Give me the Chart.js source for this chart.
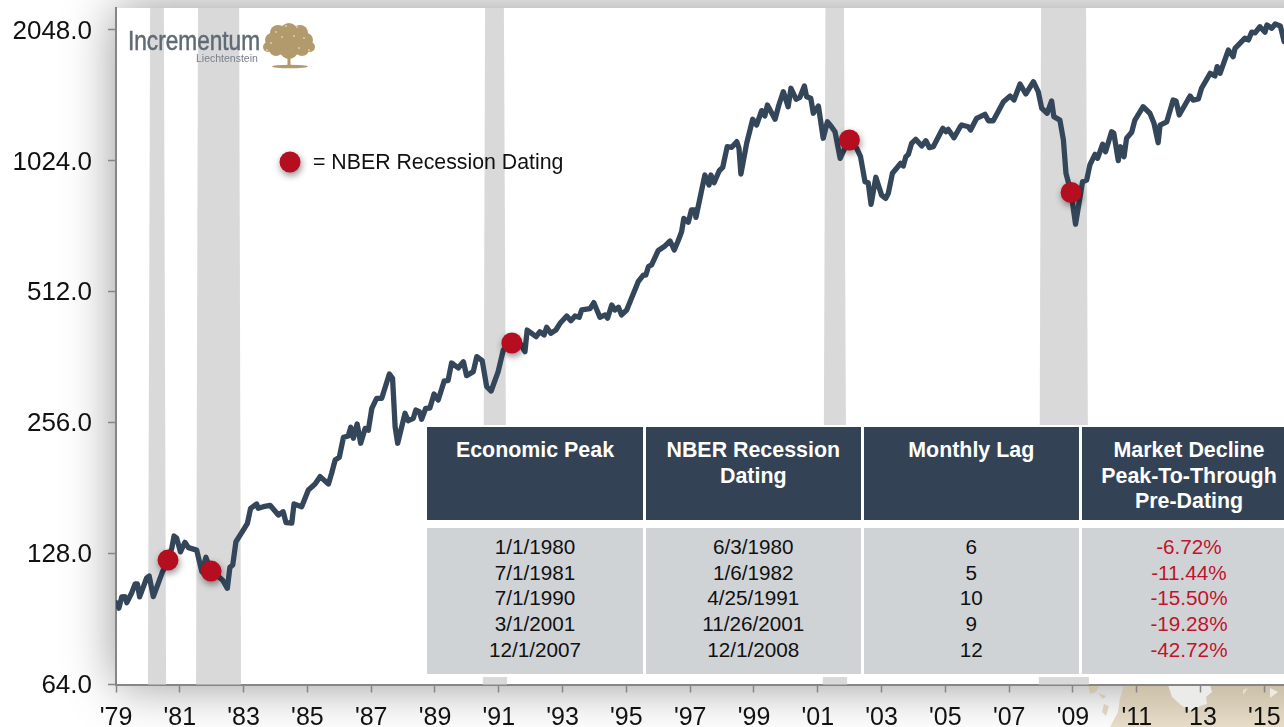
<!DOCTYPE html>
<html>
<head>
<meta charset="utf-8">
<title>NBER Recession Dating</title>
<script src="https://cdn.jsdelivr.net/npm/chart.js@4"></script>
<style>
html,body{margin:0;padding:0;background:#fff;width:1284px;height:727px;overflow:hidden;font-family:"Liberation Sans",Arial,sans-serif}
#wrap{position:relative;width:1284px;height:727px;overflow:hidden}
canvas{position:absolute;left:0;top:0}
#table{position:absolute;left:426px;top:425px;width:870px;height:252px;background:#fff}
.c{position:absolute;text-align:center;box-sizing:border-box}
.h{top:2px;height:93px;background:#334355;color:#fff;font-weight:bold;font-size:21.4px;line-height:25.5px;padding-top:11px}
.b{top:103px;height:146px;background:#d0d3d6;color:#111;font-size:20.7px;line-height:25.7px;padding-top:6px}
.r{color:#c0142c}
</style>
</head>
<body>
<div id="wrap">
<canvas id="chart" width="1284" height="727"></canvas>
<div id="table"></div>
</div>
<script>
const years = [1979.01,1979.09,1979.18,1979.28,1979.34,1979.49,1979.60,1979.67,1979.74,1979.96,1980.04,1980.17,1980.46,1980.63,1980.75,1980.82,1980.90,1981.02,1981.16,1981.27,1981.53,1981.69,1981.82,1981.98,1982.21,1982.34,1982.49,1982.57,1982.66,1982.76,1982.94,1983.12,1983.22,1983.41,1983.46,1983.62,1983.83,1984.09,1984.24,1984.33,1984.51,1984.58,1984.82,1985.03,1985.24,1985.40,1985.66,1985.76,1985.87,1986.00,1986.13,1986.28,1986.36,1986.44,1986.56,1986.67,1986.81,1986.91,1987.02,1987.17,1987.33,1987.57,1987.67,1987.75,1987.83,1988.06,1988.16,1988.32,1988.40,1988.51,1988.58,1988.71,1988.84,1988.97,1989.10,1989.29,1989.41,1989.52,1989.73,1989.89,1989.99,1990.20,1990.31,1990.48,1990.62,1990.76,1990.98,1991.14,1991.41,1991.66,1991.82,1991.89,1992.17,1992.29,1992.42,1992.50,1992.63,1992.79,1992.92,1993.13,1993.26,1993.39,1993.52,1993.60,1993.86,1993.98,1994.17,1994.33,1994.41,1994.54,1994.64,1994.75,1994.85,1995.01,1995.37,1995.53,1995.61,1995.69,1995.79,1996.00,1996.21,1996.37,1996.50,1996.62,1996.73,1996.80,1996.94,1997.04,1997.15,1997.18,1997.46,1997.59,1997.65,1997.75,1997.91,1998.02,1998.16,1998.30,1998.46,1998.53,1998.59,1998.77,1998.96,1999.08,1999.24,1999.34,1999.42,1999.66,1999.78,1999.92,2000.07,2000.16,2000.32,2000.44,2000.58,2000.65,2000.78,2000.86,2001.02,2001.17,2001.30,2001.43,2001.54,2001.70,2001.82,2001.99,2002.22,2002.34,2002.48,2002.58,2002.67,2002.82,2003.00,2003.13,2003.21,2003.34,2003.60,2003.68,2003.76,2003.84,2003.94,2004.07,2004.26,2004.39,2004.50,2004.62,2004.92,2005.02,2005.09,2005.27,2005.46,2005.51,2005.72,2005.79,2005.98,2006.24,2006.35,2006.50,2006.82,2007.03,2007.15,2007.34,2007.52,2007.76,2007.91,2008.02,2008.19,2008.33,2008.40,2008.59,2008.70,2008.78,2008.94,2009.08,2009.30,2009.43,2009.53,2009.69,2009.77,2009.93,2010.02,2010.21,2010.28,2010.42,2010.49,2010.60,2010.68,2010.84,2010.94,2011.20,2011.41,2011.54,2011.67,2011.73,2011.94,2012.14,2012.23,2012.33,2012.67,2012.77,2012.93,2013.03,2013.30,2013.45,2013.52,2013.61,2013.87,2014.02,2014.08,2014.39,2014.50,2014.60,2014.71,2014.86,2015.02,2015.08,2015.23,2015.34,2015.50,2015.62];
const index = [98.6,95.9,101.8,101.9,98.7,103.9,109.0,109.0,101.8,112.5,113.7,101.9,116.3,123.7,131.9,140.5,139.0,129.2,135.9,132.1,130.4,116.3,125.5,116.7,113.3,111.3,106.5,119.0,120.5,136.3,143.0,150.3,162.7,166.5,162.7,164.1,165.3,157.0,159.8,150.8,150.4,166.5,164.1,179.3,185.1,192.4,185.1,195.9,210.1,213.2,236.9,238.6,249.8,235.8,254.2,229.6,248.4,246.1,276.3,291.3,291.3,331.3,323.8,250.6,229.6,269.1,258.7,262.1,273.8,271.3,260.7,276.3,276.7,298.0,288.6,319.4,320.0,351.2,342.0,353.6,328.4,335.5,363.1,355.6,309.8,302.8,335.5,376.1,390.5,390.5,372.7,418.2,403.7,414.4,407.3,424.4,411.0,418.2,433.3,450.4,439.3,450.4,447.3,465.0,468.2,483.4,447.3,452.9,445.1,477.4,465.0,471.8,452.9,465.0,540.1,559.5,559.5,584.9,590.2,637.4,652.6,670.0,638.8,670.0,703.7,755.3,739.8,789.6,789.6,759.5,950.2,901.5,950.2,912.1,972.0,989.8,1103.7,1100.5,1133.8,1094.4,955.4,1123.5,1276.6,1238.2,1336.4,1298.9,1376.6,1276.6,1376.6,1477.5,1364.2,1504.4,1419.3,1434.1,1522.2,1438.1,1426.2,1318.0,1369.0,1154.5,1259.6,1226.9,1195.3,1038.2,1084.6,1144.0,1094.4,1046.9,917.2,912.1,813.5,939.0,854.5,839.8,862.3,959.0,1011.3,996.7,1046.9,1060.1,1123.5,1148.0,1108.2,1139.3,1098.2,1103.7,1216.7,1195.3,1210.0,1157.6,1225.2,1238.2,1226.9,1205.8,1282.8,1310.6,1266.6,1266.6,1400.7,1444.1,1413.4,1538.2,1459.2,1557.5,1477.5,1352.9,1318.0,1406.6,1294.4,1271.0,1144.1,959.0,866.0,732.2,917.2,925.4,1002.2,1060.1,1038.2,1118.2,1074.9,1195.3,1185.4,1025.4,1103.7,1046.9,1154.5,1191.9,1271.0,1364.2,1318.0,1249.2,1127.4,1238.2,1259.6,1413.4,1406.6,1306.0,1444.1,1413.4,1421.2,1504.4,1628.2,1605.8,1686.8,1628.2,1841.9,1778.0,1858.6,1961.2,1943.5,2024.8,2017.2,2083.9,2024.8,2102.7,2066.4,2114.3,2092.4,1925.7];

const dotYears = [1980.63,1981.98,1991.41,2001.99,2008.94];
const dotValues = [123.7,116.7,390.5,1144,866];

const yTicks = [64,128,256,512,1024,2048];
const xTicks = [1979,1981,1983,1985,1987,1989,1991,1993,1995,1997,1999,2001,2003,2005,2007,2009,2011,2013,2015];

const bandStartTop = [1980.07,1981.57,1990.57,2001.24,2008.00];
const bandEndTop = [1980.50,1982.86,1991.16,2001.82,2009.41];
const bandStartBottom = [1980.00,1981.51,1990.50,2001.16,2007.93];
const bandEndBottom = [1980.57,1982.92,1991.26,2001.92,2009.50];

const tableHeaders = ["Economic Peak","NBER Recession<br>Dating","Monthly Lag","Market Decline<br>Peak-To-Through<br>Pre-Dating"];
const peaks = ["1/1/1980","7/1/1981","7/1/1990","3/1/2001","12/1/2007"];
const datings = ["6/3/1980","1/6/1982","4/25/1991","11/26/2001","12/1/2008"];
const lags = ["6","5","10","9","12"];
const declines = ["-6.72%","-11.44%","-15.50%","-19.28%","-42.72%"];
const legendLabel = "= NBER Recession Dating";
const logoName = "Incrementum";
const logoPlace = "Liechtenstein";

const AXIS = "#868686", LINE = "#34465a", RED = "#b40e20", BAND = "#d9d9d9";

const table = document.getElementById("table");
const cols = [[1,216],[219.5,215.5],[437.5,215.5],[656,214]];
[peaks,datings,lags,declines].forEach((rows,i)=>{
  const h = document.createElement("div");
  h.className = "c h"; h.style.left = cols[i][0]+"px"; h.style.width = cols[i][1]+"px";
  h.innerHTML = tableHeaders[i]; table.appendChild(h);
  const b = document.createElement("div");
  b.className = "c b" + (i===3?" r":""); b.style.left = cols[i][0]+"px"; b.style.width = cols[i][1]+"px";
  b.innerHTML = rows.join("<br>"); table.appendChild(b);
});

const backdrop = {
  id:"backdrop",
  beforeDraw(chart){
    const {ctx,chartArea:a} = chart;
    ctx.save();
    ctx.fillStyle="#fff"; ctx.fillRect(0,0,1284,727);
    ctx.shadowColor="rgba(0,0,0,0.42)"; ctx.shadowBlur=48;
    ctx.fillStyle="#fff"; ctx.fillRect(a.left,a.top,a.right-a.left+80,a.bottom-a.top);
    ctx.shadowColor="transparent"; ctx.shadowBlur=0;
    // world map fragment under the axis
    ctx.beginPath(); ctx.rect(0,a.bottom,1284,727-a.bottom); ctx.clip();
    const g=ctx.createLinearGradient(0,a.bottom,0,727);
    g.addColorStop(0,"#cabfa8"); g.addColorStop(1,"#e6dcc8");
    const poly=(pts,f)=>{ctx.fillStyle=f;ctx.beginPath();pts.forEach((p,i)=>i?ctx.lineTo(p[0],p[1]):ctx.moveTo(p[0],p[1]));ctx.closePath();ctx.fill();};
    poly([[1124,685],[1284,685],[1284,727],[1110,727],[1118,712],[1120,698]],g);
    poly([[1168,685],[1210,685],[1212,692],[1206,697],[1207,704],[1200,706],[1193,712],[1182,706],[1172,697]],"#ebebe9");
    poly([[1088,685],[1100,685],[1096,692],[1090,694]],g);
    poly([[1098,693],[1106,696],[1103,699]],g);
    poly([[1104,704],[1109,706],[1106,716],[1102,712]],g);
    poly([[1270,688],[1278,692],[1270,698]],"#eeeae2");
    poly([[1243,690],[1248,688],[1243,695]],"#e6e0d4");
    ctx.restore();
  },
  beforeDatasetsDraw(chart){
    const {ctx,chartArea:a,scales:{x}} = chart;
    ctx.save();
    ctx.fillStyle=BAND;
    bandStartTop.forEach((s,i)=>{
      ctx.beginPath();
      ctx.moveTo(x.getPixelForValue(s),a.top);
      ctx.lineTo(x.getPixelForValue(bandEndTop[i]),a.top);
      ctx.lineTo(x.getPixelForValue(bandEndBottom[i]),a.bottom);
      ctx.lineTo(x.getPixelForValue(bandStartBottom[i]),a.bottom);
      ctx.closePath(); ctx.fill();
    });
    // logo
    ctx.textBaseline="alphabetic"; ctx.textAlign="left";
    ctx.fillStyle="#5f6a75"; ctx.strokeStyle="#5f6a75"; ctx.lineWidth=0.5;
    ctx.font="27px 'Liberation Sans'";
    ctx.fillText(logoName,128,50,132);
    ctx.strokeText(logoName,128,50,132);
    ctx.fillStyle="#77808a";
    ctx.font="10.5px 'Liberation Sans'";
    ctx.fillText(logoPlace,196,62,64);
    const tan="#b29a6c";
    ctx.fillStyle=tan;
    [[289,32,9],[278,33,8],[300,33,8],[272,40,7],[306,40,7],[268,47,5],[310,47,5],[276,49,7],[302,49,7],[289,42,15],[289,50,9]]
      .forEach(c=>{ctx.beginPath();ctx.arc(c[0],c[1],c[2],0,Math.PI*2);ctx.fill();});
    ctx.fillRect(287.5,52,3,14);
    ctx.beginPath();ctx.ellipse(290,66.5,18,1.8,0,0,Math.PI*2);ctx.fill();
    ctx.fillStyle="#ddd2bb";
    [[276,32],[297,27],[304,38],[271,43],[286,26],[309,50],[267,50],[299,48],[282,37],[294,36]]
      .forEach(c=>{ctx.beginPath();ctx.arc(c[0],c[1],0.9,0,Math.PI*2);ctx.fill();});
    ctx.restore();
  },
  beforeDatasetDraw(chart,args){
    if(args.index===1){
      const c=chart.ctx; c.save();
      c.shadowColor="rgba(0,0,0,0.45)"; c.shadowBlur=7; c.shadowOffsetX=1; c.shadowOffsetY=3;
    }
  },
  afterDatasetDraw(chart,args){ if(args.index===1) chart.ctx.restore(); },
  afterDatasetsDraw(chart){
    const c=chart.ctx; c.save();
    c.shadowColor="rgba(0,0,0,0.45)"; c.shadowBlur=7; c.shadowOffsetX=1; c.shadowOffsetY=3;
    c.fillStyle=RED; c.beginPath(); c.arc(290,162,10.5,0,Math.PI*2); c.fill();
    c.shadowColor="transparent"; c.shadowBlur=0; c.shadowOffsetX=0; c.shadowOffsetY=0;
    c.fillStyle="#111"; c.font="21.3px 'Liberation Sans'"; c.textBaseline="middle"; c.textAlign="left";
    c.fillText(legendLabel,313,163);
    c.restore();
  }
};

const noPad = s => { s.paddingTop=0; s.paddingBottom=0; s.paddingLeft=0; s.paddingRight=0; };

new Chart(document.getElementById("chart"),{
  type:"line",
  plugins:[backdrop],
  data:{datasets:[
    {label:"Index",order:2,data:years.map((x,i)=>({x,y:index[i]})),borderColor:LINE,borderWidth:5.3,borderJoinStyle:"round",borderCapStyle:"round",pointRadius:0,tension:0,fill:false},
    {label:"NBER Recession Dating",type:"scatter",order:1,data:dotYears.map((x,i)=>({x,y:dotValues[i]})),backgroundColor:RED,borderColor:RED,borderWidth:0,pointRadius:10.5,showLine:false,clip:false}
  ]},
  options:{
    responsive:false,animation:false,
    layout:{autoPadding:false,padding:{top:8,left:0,right:0,bottom:0}},
    plugins:{legend:{display:false},title:{display:false},tooltip:{enabled:false}},
    scales:{
      x:{type:"linear",min:1979,max:2015.615,
        afterBuildTicks(s){s.ticks=xTicks.map(value=>({value}));},
        afterFit(s){s.height=42.5;noPad(s);},
        border:{color:AXIS,width:2},
        grid:{drawOnChartArea:false,drawTicks:true,tickLength:8,tickColor:AXIS,tickWidth:1.5},
        ticks:{autoSkip:false,maxRotation:0,padding:11,color:"#111",font:{family:"'Liberation Sans'",size:25},callback:v=>"'"+String(v).slice(2)}
      },
      y:{type:"logarithmic",min:64,max:2301,
        afterBuildTicks(s){s.ticks=yTicks.map(value=>({value}));},
        afterFit(s){s.width=116;noPad(s);},
        border:{color:AXIS,width:2},
        grid:{drawOnChartArea:false,drawTicks:true,tickLength:8,tickColor:AXIS,tickWidth:1.5},
        ticks:{autoSkip:false,padding:16,labelOffset:1.5,color:"#111",font:{family:"'Liberation Sans'",size:26},callback:v=>Number(v).toFixed(1)}
      }
    }
  }
});
</script>
</body>
</html>
